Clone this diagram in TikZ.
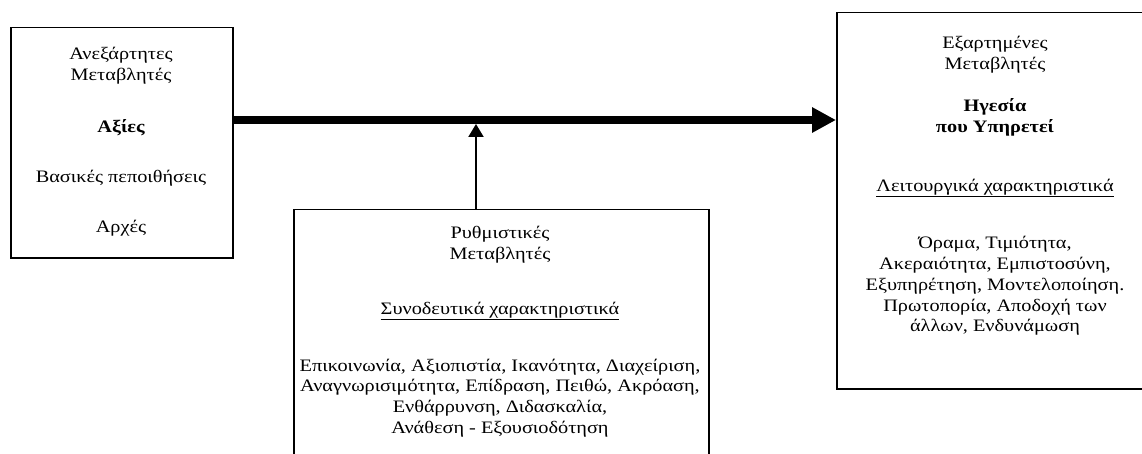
\documentclass[tikz,border=0pt]{standalone}
\usepackage{fontspec}
\setmainfont{Liberation Serif}[FakeStretch=1.16]
\usetikzlibrary{arrows.meta}
\begin{document}
\begin{tikzpicture}[x=1pt,y=-1pt,
  varbox/.style={draw,line width=1.5pt,inner sep=0pt,anchor=north west},
  txt/.style={align=center,inner sep=0pt,font=\fontsize{17.5}{20.8}\selectfont},
  boldtxt/.style={txt,font=\fontsize{17.5}{20.8}\selectfont\bfseries},
  mainflow/.style={line width=8pt,-{Triangle[length=24pt,width=24pt]}},
  modflow/.style={line width=2pt,-{Triangle[length=13pt,width=15pt]}}]
\useasboundingbox (0,0) rectangle (1142,454);
\clip (0,0) rectangle (1142,454);

% boxes
\node[varbox,minimum width=222pt,minimum height=230pt] (indep) at (10,27) {};
\node[varbox,minimum width=330pt,minimum height=376pt] (dep) at (836,12) {};
\node[varbox,minimum width=415pt,minimum height=300pt] (mod) at (293,209) {};

% independent variables
\node[txt] (lhead) at (121,66) {Ανεξάρτητες\\Μεταβλητές};
\node[boldtxt] (lval) at (121,128) {Αξίες};
\node[txt] (lbel) at (121,178) {Βασικές πεποιθήσεις};
\node[txt] (lpri) at (121,228) {Αρχές};

% dependent variables
\node[txt] (rhead) at (995,55) {Εξαρτημένες\\Μεταβλητές};
\node[boldtxt] (rname) at (995,117) {Ηγεσία\\που Υπηρετεί};
\node[txt] (rfunc) at (995,188) {\underline{Λειτουργικά χαρακτηριστικά}};
\node[txt] (rlist) at (995,286) {Όραμα, Τιμιότητα,\\Ακεραιότητα, Εμπιστοσύνη,\\Εξυπηρέτηση, Μοντελοποίηση.\\Πρωτοπορία, Αποδοχή των\\άλλων, Ενδυνάμωση};

% moderating variables
\node[txt] (bhead) at (500,245) {Ρυθμιστικές\\Μεταβλητές};
\node[txt] (bacc) at (500,311) {\underline{Συνοδευτικά χαρακτηριστικά}};
\node[txt] (blist) at (500,398) {Επικοινωνία, Αξιοπιστία, Ικανότητα, Διαχείριση,\\Αναγνωρισιμότητα, Επίδραση, Πειθώ, Ακρόαση,\\Ενθάρρυνση, Διδασκαλία,\\Ανάθεση - Εξουσιοδότηση};

% connectors
\draw[mainflow] (indep.east |- 0,120) -- (dep.west |- 0,120);
\coordinate (hit) at (476,124);
\draw[modflow] (mod.north -| hit) -- (hit);
\end{tikzpicture}
\end{document}
